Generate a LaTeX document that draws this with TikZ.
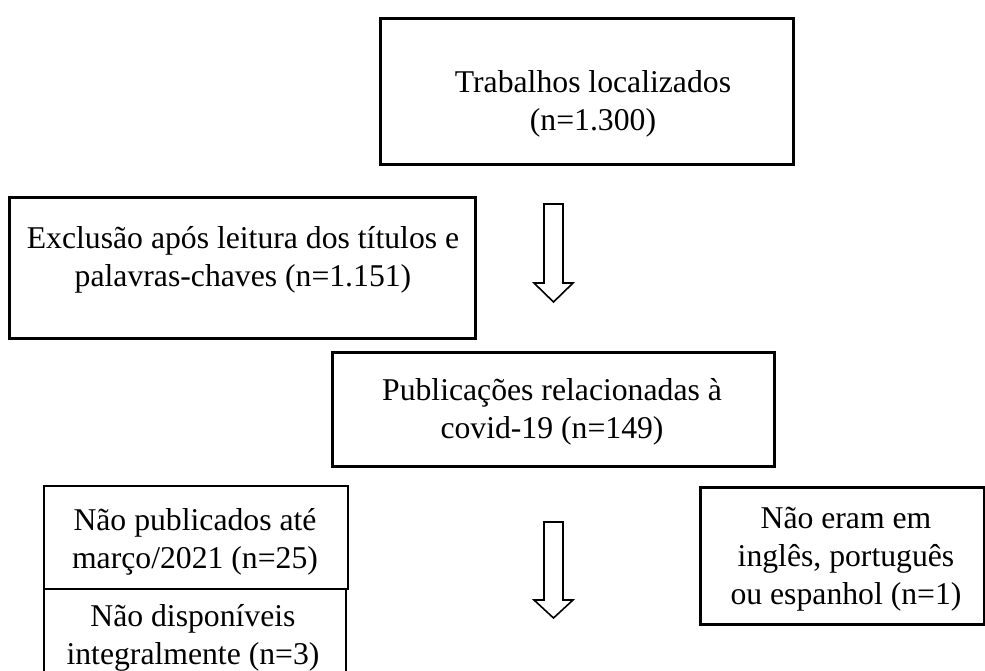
\documentclass[tikz,border=0pt]{standalone}
\usepackage{fontspec}
\setmainfont{Liberation Serif}
\begin{document}
\begin{tikzpicture}[x=1pt,y=-1pt,
  box/.style={draw, line width=3pt, inner sep=0pt, anchor=north west},
  thinbox/.style={draw, line width=2pt, inner sep=0pt, anchor=north west},
  txt/.style={font=\fontsize{31.7}{38}\selectfont, align=center, inner sep=0pt, anchor=north},
  blockarrow/.style={draw, line width=1.6pt, fill=white, line join=miter}]
\useasboundingbox (0,0) rectangle (985,670);
\clip (0,0) rectangle (985,670);
% boxes
\node[box, line width=3.4pt, minimum width=413pt, minimum height=146pt] (b1) at (379,17) {};
\node[box, minimum width=466pt, minimum height=141pt] (b2) at (8,196) {};
\node[box, minimum width=442pt, minimum height=114pt] (b3) at (331,351) {};
\node[thinbox, minimum width=304pt, minimum height=103pt] (b4) at (43,485) {};
\node[thinbox, minimum width=302pt, minimum height=112pt] (b5) at (43,588) {};
\node[box, minimum width=284pt, minimum height=137pt] (b6) at (699,486) {};
% texts
\node[txt] (t1) at (593,65.4) {\strut Trabalhos localizados\\(n=1.300)};
\node[txt] (t2) at (243,221.4) {\strut Exclusão após leitura dos títulos e\\palavras-chaves (n=1.151)};
\node[txt] (t3) at (552,373.4) {\strut Publicações relacionadas à\\covid-19 (n=149)};
\node[txt] (t4) at (195,503.4) {\strut Não publicados até\\março/2021 (n=25)};
\node[txt] (t5) at (193,599.4) {\strut Não disponíveis\\integralmente (n=3)};
\node[txt] (t6) at (846,501.4) {\strut Não eram em\\inglês, português\\ou espanhol (n=1)};
% block arrows
\draw[blockarrow] (544,204) -- (563,204) -- (563,283) -- (573,283) -- (553.5,302) -- (534,283) -- (544,283) -- cycle;
\draw[blockarrow] (544,522) -- (563,522) -- (563,600) -- (573,600) -- (553.5,618) -- (534,600) -- (544,600) -- cycle;
\end{tikzpicture}
\end{document}
